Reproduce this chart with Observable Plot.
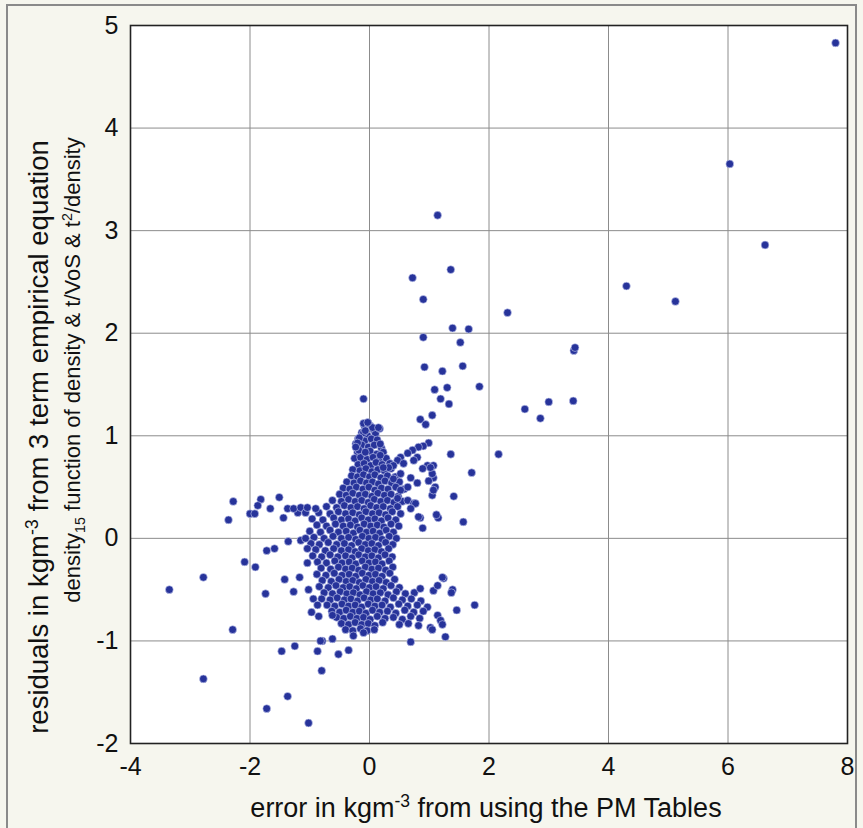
<!DOCTYPE html>
<html>
<head>
<meta charset="utf-8">
<script src="https://cdn.jsdelivr.net/npm/d3@7"></script>
<script src="https://cdn.jsdelivr.net/npm/@observablehq/plot@0.6"></script>
<style>
  html, body { margin: 0; padding: 0; background: #f6f6ee; }
  #wrap { position: relative; width: 863px; height: 828px; background: #f6f6ee; overflow: hidden; font-family: "Liberation Sans", Arial, sans-serif; color: #111; }
  #border { position: absolute; left: 6px; top: 4px; width: 851px; height: 840px; border: 2px solid #8a8a8a; box-sizing: border-box; }
  #chart { position: absolute; left: 0; top: 0; }
  .rot { position: absolute; white-space: nowrap; transform: translate(-50%, -50%) rotate(-90deg); }
  .lab { position: absolute; white-space: nowrap; transform: translate(-50%, -50%); }
  sup, sub { font-size: 0.65em; line-height: 0; }
</style>
</head>
<body>
<div id="wrap">
  <div id="border"></div>
  <div id="chart"></div>
  <div class="rot" style="left:39px;top:437px;font-size:27.5px;">residuals in kgm<sup>-3</sup> from 3 term empirical equation</div>
  <div class="rot" style="left:73px;top:370px;font-size:22px;">density<sub>15</sub> function of density &amp; t/VoS &amp; t<sup>2</sup>/density</div>
  <div class="lab" style="left:486px;top:808px;font-size:27px;">error in kgm<sup>-3</sup> from using the PM Tables</div>
</div>
<script>
const xTicks = [-4, -2, 0, 2, 4, 6, 8];
const yTicks = [-2, -1, 0, 1, 2, 3, 4, 5];

const upperOutliers = [
  [7.8,4.83],[6.03,3.65],[6.62,2.86],[4.3,2.46],[5.12,2.31],[3.42,1.83],[3.44,1.86],
  [3.41,1.34],[3.0,1.33],[2.6,1.26],[2.86,1.17],[2.31,2.2],[2.16,0.82],[1.14,3.15],
  [1.36,2.62],[0.72,2.54],[0.9,2.33],[1.39,2.05],[1.66,2.04],[0.9,1.96],[1.52,1.91],
  [0.92,1.67],[1.22,1.63],[1.56,1.68],[1.84,1.48],[1.09,1.45],[1.3,1.47],[1.19,1.36],
  [1.33,1.31],[1.05,1.2],[0.85,1.16],[0.94,1.11],[-0.1,1.36]
];

const rightScatter = [
  [1.36,0.82],[1.71,0.64],[1.41,0.41],[1.57,0.16],[1.15,0.2],[1.12,0.23],[0.85,0.2],
  [0.89,0.1],[1.07,0.71],[1.05,0.63],[0.99,0.56],[1.02,0.69],[1.07,0.47],[0.77,0.34],
  [0.69,0.29],[0.82,0.21],
  [1.24,-0.39],[1.39,-0.5],[1.76,-0.65],[1.46,-0.7],[1.27,-0.96],[0.69,-1.01],[1.14,-0.75],
  [1.19,-0.8],[1.02,-0.87],[0.82,-0.85],[0.85,-0.49],[1.07,-0.51],[1.14,-0.46],[1.22,-0.84],
  [1.05,-0.89],[1.37,-0.53],[1.22,-0.38]
];

const leftScatter = [
  [-3.35,-0.5],[-2.78,-1.37],[-2.78,-0.38],[-2.29,-0.89],[-1.72,-1.66],[-1.37,-1.54],
  [-1.02,-1.8],[-1.47,-1.1],[-1.25,-1.05],[-0.8,-1.29],[-0.87,-1.1],[-0.79,-1.0],
  [-0.62,-0.98],[-0.52,-1.13],[-0.35,-1.09],[-0.27,-0.95],[-0.1,-0.92],[-0.82,-1.0],
  [-2.28,0.36],[-2.36,0.18],[-1.82,0.38],[-2.0,0.24],[-1.92,0.24],[-1.87,0.32],
  [-1.66,0.29],[-1.51,0.4],[-1.37,0.29],[-1.44,0.2],[-1.2,0.25],[-1.27,0.29],[-1.15,0.3],
  [-1.07,0.25],[-1.36,-0.03],[-1.59,-0.1],[-1.72,-0.12],[-2.09,-0.23],[-1.91,-0.28],
  [-1.42,-0.4],[-1.17,-0.38],[-1.74,-0.54],[-1.27,-0.52],[-1.04,-0.24],[-1.02,-0.5],
  [-0.94,-0.59],[-0.97,-0.72],[-0.87,-0.65],[-1.15,-0.02],[-1.07,0.0],[-1.04,-0.1],
  [-0.85,-0.76],[-0.62,-0.75],[-1.04,0.3],[-0.9,0.29]
];

const upperArm = [
  [-0.1,1.12],[-0.02,1.12],[0.05,1.08],[0.17,1.07],[-0.1,1.03],[-0.17,0.98],[-0.23,0.92],
  [0.18,0.92],[-0.18,0.86],[-0.07,0.84],[0.18,0.81],[-0.2,0.93],[-0.23,0.89],[0.15,1.08],
  [-0.03,1.13],[-0.07,1.05]
];

const diagArm = [
  [0.99,0.93],[0.9,0.9],[0.82,0.89],[0.72,0.86],[0.64,0.83],[0.52,0.79],[0.47,0.76],
  [0.8,0.79],[0.74,0.76],[0.57,0.73],[0.4,0.71],[0.32,0.69],[0.23,0.69],[0.97,0.71],
  [0.89,0.68],[1.07,0.59],[0.52,0.63],[0.4,0.58],[0.69,0.59],[0.8,0.54],[0.64,0.5],
  [0.52,0.47],[1.1,0.5],[1.05,0.42],[0.64,0.37],[0.74,0.34],[0.47,0.39]
];

const core = [
  [-0.08,1.09],[0.01,1.1],[0.07,1.06],
  [-0.13,1.03],[-0.03,1.0],[0.1,1.02],
  [-0.19,0.97],[-0.08,0.95],[0.03,0.97],[0.13,0.96],
  [-0.22,0.9],[-0.13,0.91],[-0.02,0.89],[0.08,0.91],[0.2,0.88],
  [-0.2,0.84],[-0.1,0.83],[0.01,0.85],[0.12,0.82],[0.23,0.84],
  [-0.25,0.78],[-0.15,0.79],[-0.04,0.77],[0.06,0.79],[0.16,0.76],[0.28,0.78],
  [-0.19,0.72],[-0.09,0.73],[0.02,0.71],[0.11,0.74],[0.21,0.72],[0.34,0.73],
  [-0.28,0.67],[-0.16,0.66],[-0.06,0.68],[0.04,0.65],[0.14,0.67],[0.25,0.66],[0.36,0.68],
  [-0.3,0.61],[-0.2,0.6],[-0.1,0.62],[0.0,0.6],[0.09,0.62],[0.19,0.59],[0.3,0.61],[0.43,0.6],
  [-0.38,0.55],[-0.26,0.54],[-0.15,0.56],[-0.05,0.54],[0.05,0.55],[0.15,0.53],[0.26,0.56],[0.37,0.54],[0.5,0.55],
  [-0.44,0.49],[-0.33,0.48],[-0.22,0.5],[-0.11,0.48],[-0.01,0.5],[0.09,0.47],[0.2,0.49],[0.31,0.48],[0.44,0.5],[0.58,0.48],
  [-0.5,0.43],[-0.39,0.42],[-0.28,0.44],[-0.17,0.42],[-0.07,0.43],[0.04,0.41],[0.14,0.44],[0.25,0.42],[0.36,0.43],[0.48,0.41],
  [-0.62,0.37],[-0.47,0.36],[-0.35,0.38],[-0.24,0.36],[-0.13,0.37],[-0.02,0.35],[0.08,0.38],[0.19,0.36],[0.3,0.37],[0.41,0.35],[0.55,0.36],
  [-0.72,0.31],[-0.55,0.3],[-0.42,0.32],[-0.31,0.3],[-0.2,0.31],[-0.09,0.29],[0.02,0.32],[0.12,0.3],[0.23,0.31],[0.35,0.29],[0.47,0.31],
  [-0.85,0.25],[-0.66,0.24],[-0.52,0.26],[-0.4,0.24],[-0.28,0.25],[-0.17,0.23],[-0.06,0.26],[0.05,0.24],[0.16,0.25],[0.27,0.23],[0.38,0.26],[0.52,0.24],
  [-0.96,0.19],[-0.78,0.18],[-0.6,0.2],[-0.47,0.18],[-0.35,0.19],[-0.24,0.17],[-0.13,0.2],[-0.02,0.18],[0.09,0.19],[0.2,0.17],[0.31,0.2],[0.44,0.18],
  [-0.88,0.13],[-0.72,0.12],[-0.57,0.14],[-0.44,0.12],[-0.32,0.13],[-0.2,0.11],[-0.09,0.14],[0.02,0.12],[0.13,0.13],[0.24,0.11],[0.36,0.14],[0.49,0.12],
  [-1.0,0.07],[-0.82,0.06],[-0.66,0.08],[-0.52,0.06],[-0.39,0.07],[-0.27,0.05],[-0.16,0.08],[-0.05,0.06],[0.06,0.07],[0.17,0.05],[0.28,0.08],[0.4,0.06],
  [-0.93,0.01],[-0.76,0.0],[-0.61,0.02],[-0.47,0.0],[-0.35,0.01],[-0.23,-0.01],[-0.12,0.02],[-0.01,0.0],[0.1,0.01],[0.21,-0.01],[0.33,0.02],[0.45,0.0],
  [-0.98,-0.05],[-0.84,-0.06],[-0.69,-0.04],[-0.55,-0.06],[-0.42,-0.05],[-0.3,-0.07],[-0.18,-0.04],[-0.07,-0.06],[0.04,-0.05],[0.15,-0.07],[0.27,-0.04],[0.39,-0.06],
  [-0.9,-0.11],[-0.74,-0.12],[-0.6,-0.1],[-0.47,-0.12],[-0.35,-0.11],[-0.24,-0.13],[-0.13,-0.1],[-0.02,-0.12],[0.09,-0.11],[0.2,-0.13],[0.32,-0.1],
  [-0.95,-0.17],[-0.8,-0.18],[-0.66,-0.16],[-0.53,-0.18],[-0.4,-0.17],[-0.29,-0.19],[-0.18,-0.16],[-0.07,-0.18],[0.04,-0.17],[0.15,-0.19],[0.26,-0.16],[0.38,-0.18],
  [-0.87,-0.23],[-0.72,-0.24],[-0.58,-0.22],[-0.46,-0.24],[-0.34,-0.23],[-0.23,-0.25],[-0.12,-0.22],[-0.01,-0.24],[0.1,-0.23],[0.21,-0.25],[0.33,-0.22],
  [-0.81,-0.29],[-0.65,-0.3],[-0.52,-0.28],[-0.4,-0.3],[-0.29,-0.29],[-0.18,-0.31],[-0.07,-0.28],[0.04,-0.3],[0.15,-0.29],[0.27,-0.31],[0.39,-0.28],
  [-0.88,-0.35],[-0.73,-0.36],[-0.59,-0.34],[-0.46,-0.36],[-0.34,-0.35],[-0.23,-0.37],[-0.12,-0.34],[-0.01,-0.36],[0.1,-0.35],[0.21,-0.37],[0.34,-0.34],
  [-0.79,-0.41],[-0.64,-0.42],[-0.51,-0.4],[-0.39,-0.42],[-0.28,-0.41],[-0.17,-0.43],[-0.06,-0.4],[0.05,-0.42],[0.16,-0.41],[0.28,-0.43],[0.42,-0.4],
  [-0.84,-0.47],[-0.69,-0.48],[-0.56,-0.46],[-0.44,-0.48],[-0.33,-0.47],[-0.22,-0.49],[-0.11,-0.46],[0.0,-0.48],[0.11,-0.47],[0.23,-0.49],[0.36,-0.46],[0.5,-0.48],
  [-0.76,-0.53],[-0.62,-0.54],[-0.49,-0.52],[-0.38,-0.54],[-0.27,-0.53],[-0.16,-0.55],[-0.05,-0.52],[0.06,-0.54],[0.18,-0.53],[0.31,-0.55],[0.45,-0.52],[0.6,-0.54],[0.75,-0.53],
  [-0.8,-0.59],[-0.66,-0.6],[-0.54,-0.58],[-0.42,-0.6],[-0.31,-0.59],[-0.2,-0.61],[-0.09,-0.58],[0.02,-0.6],[0.13,-0.59],[0.26,-0.61],[0.4,-0.58],[0.55,-0.6],[0.7,-0.59],[0.86,-0.61],
  [-0.71,-0.65],[-0.58,-0.66],[-0.46,-0.64],[-0.35,-0.66],[-0.24,-0.65],[-0.13,-0.67],[-0.02,-0.64],[0.09,-0.66],[0.21,-0.65],[0.35,-0.67],[0.49,-0.64],[0.64,-0.66],[0.8,-0.65],[0.97,-0.67],
  [-0.63,-0.71],[-0.5,-0.72],[-0.39,-0.7],[-0.28,-0.72],[-0.17,-0.71],[-0.06,-0.73],[0.05,-0.7],[0.17,-0.72],[0.3,-0.71],[0.44,-0.73],[0.59,-0.7],[0.74,-0.72],[0.9,-0.71],
  [-0.55,-0.77],[-0.43,-0.78],[-0.32,-0.76],[-0.21,-0.78],[-0.1,-0.77],[0.01,-0.79],[0.13,-0.76],[0.26,-0.78],[0.4,-0.77],[0.55,-0.79],[0.69,-0.76],[0.84,-0.78],
  [-0.47,-0.83],[-0.35,-0.84],[-0.24,-0.82],[-0.13,-0.84],[-0.02,-0.83],[0.09,-0.85],[0.22,-0.82],[0.5,-0.84],[0.65,-0.83],
  [-0.4,-0.89],[-0.28,-0.9],[-0.15,-0.88],[-0.04,-0.9],[0.08,-0.89]
];

const points = [...core, ...upperArm, ...diagArm, ...rightScatter, ...leftScatter, ...upperOutliers]
  .map(([x, y]) => ({x, y}));

const chart = Plot.plot({
  width: 863,
  height: 828,
  marginLeft: 130,
  marginRight: 16,
  marginTop: 25,
  marginBottom: 85,
  style: { background: "transparent", fontFamily: "'Liberation Sans', Arial, sans-serif", fontSize: "25px", color: "#111" },
  x: { domain: [-4, 8] },
  y: { domain: [-2, 5] },
  marks: [
    Plot.frame({ fill: "white", stroke: null }),
    Plot.gridX(xTicks, { stroke: "#8c8c8c", strokeOpacity: 1, strokeWidth: 1 }),
    Plot.gridY(yTicks, { stroke: "#8c8c8c", strokeOpacity: 1, strokeWidth: 1 }),
    Plot.axisX(xTicks, { tickSize: 0, tickPadding: 14, fontSize: 25, label: null, tickFormat: d => String(d) }),
    Plot.axisY(yTicks, { tickSize: 0, tickPadding: 12, fontSize: 25, label: null, tickFormat: d => String(d) }),
    Plot.dot(points, { x: "x", y: "y", r: 3.9, fill: "#27339a", stroke: "#c7cdf0", strokeWidth: 0.6 }),
    Plot.frame({ stroke: "#222", strokeWidth: 1.6 })
  ]
});
document.getElementById("chart").appendChild(chart);
</script>
</body>
</html>
